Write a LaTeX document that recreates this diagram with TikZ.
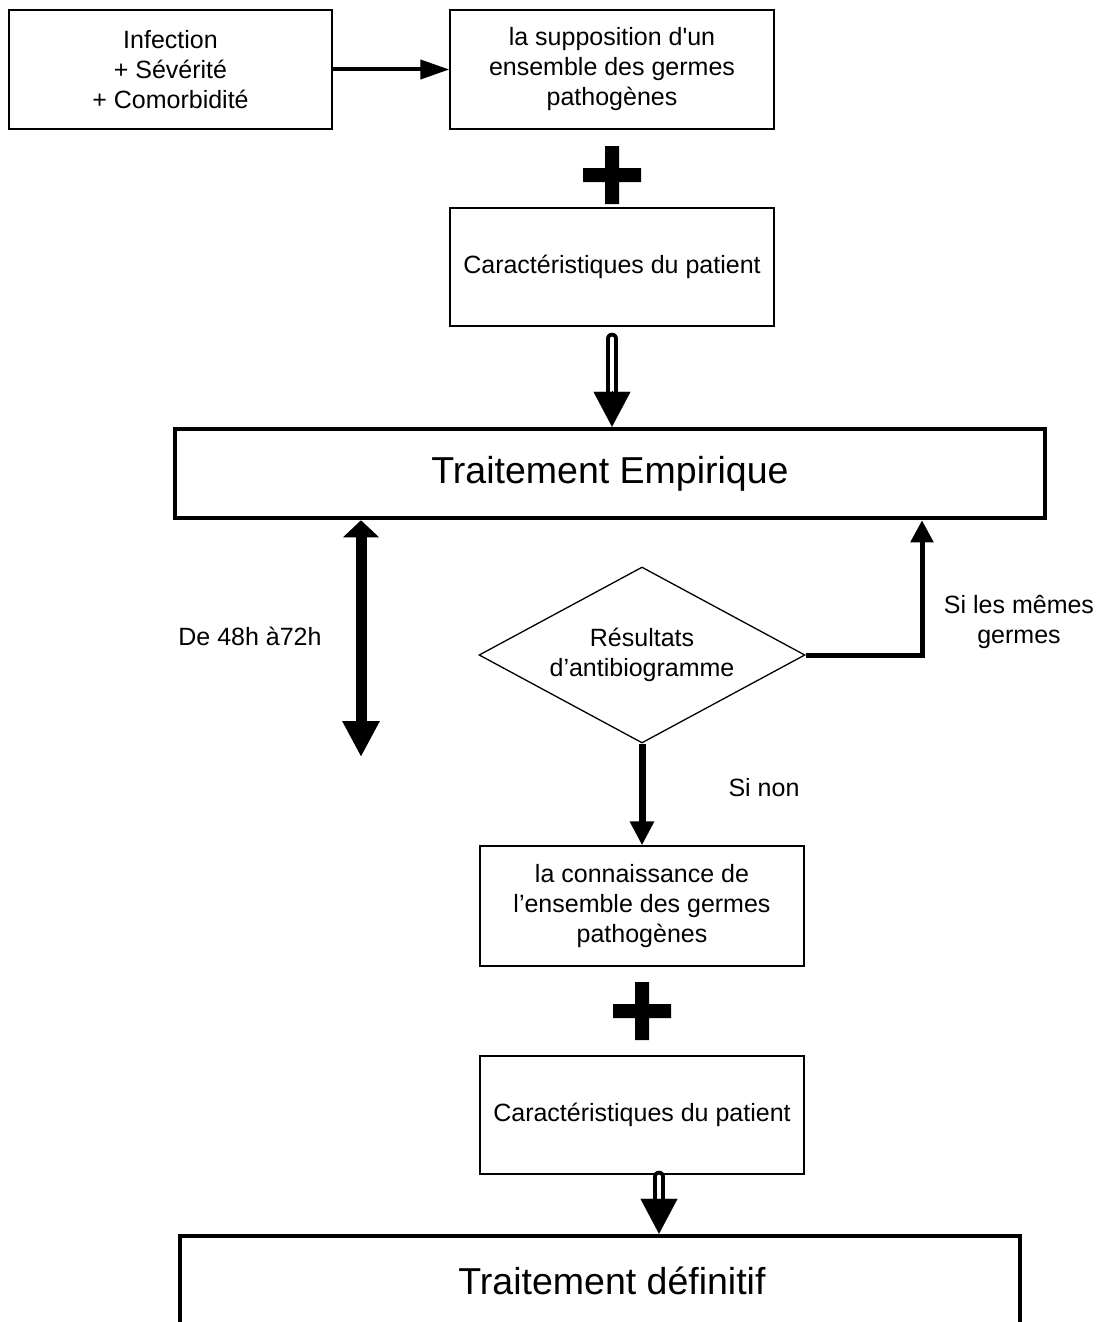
\documentclass[tikz,border=0pt]{standalone}
\usepackage{fontspec}
\setmainfont{Liberation Sans}
\usetikzlibrary{arrows.meta,shapes.geometric,calc}

\tikzset{every picture/.style={line width=1.3pt},
  txt/.style={align=center, font=\fontsize{25}{30}\selectfont},
  bigtxt/.style={font=\fontsize{37.5}{45}\selectfont},
  procbox/.style={draw, line width=1.3pt, minimum width=324pt, minimum height=119pt, inner sep=0pt, txt},
  bigbox/.style={draw, line width=4.5pt, inner sep=0pt, bigtxt},
  decision/.style={diamond, draw, line width=1.3pt, aspect=1.85, minimum width=326pt, minimum height=176pt, inner sep=0pt, txt},
  hollowshaft/.style={line width=4pt, double=white, double distance=4pt, line cap=round},
  hollowhead/.style={line width=0.1pt, -{Triangle[width=37pt,length=35pt]}},
}

\begin{document}
\begin{tikzpicture}[x=1pt,y=1pt,yscale=-1,xscale=1]
\useasboundingbox (0,0) rectangle (1103,1322);

%Flowchart: Process
\node (inf) [procbox, minimum width=323pt] at (170.5,69.5) {Infection\\+ Sévérité\\+ Comorbidité};
%Flowchart: Process
\node (supp) [procbox] at (612,69.5) {la supposition d\textquotesingle un\\ensemble des germes\\pathogènes};
%Flowchart: Process
\node (car1) [procbox, minimum height=118pt] at (612,267) {Caractéristiques du patient};
%Flowchart: Process
\node (emp) [bigbox, minimum width=870pt, minimum height=89pt] at (610,473.5) {Traitement Empirique};
%Flowchart: Decision
\node (res) [decision] at (642,655) {Résultats\\d’antibiogramme};
%Flowchart: Process
\node (conn) [procbox, minimum height=120pt] at (642,906) {la connaissance de\\l’ensemble des germes\\pathogènes};
%Flowchart: Process
\node (car2) [procbox, minimum height=118pt] at (642,1115) {Caractéristiques du patient};
%Flowchart: Process
\node (defi) [bigbox, minimum width=840pt, minimum height=128pt] at (600,1300) {};

% Text Node
\node (defitxt) [bigtxt] at (612,1281) {Traitement définitif};
% Text Node
\node (duree) [txt] at (250,636) {De 48h à72h};
% Text Node
\node (meme) [txt] at (1019,622) {Si les mêmes\\germes};
% Text Node
\node (non) [txt] at (764,788) {Si non};

%Plus
\foreach \cx/\cy in {612/175,642/1011}
  \fill (\cx-29,\cy-7) rectangle (\cx+29,\cy+7) (\cx-7,\cy-29) rectangle (\cx+7,\cy+29);

%Arrows
\draw [line width=4pt, -{Triangle[width=19pt,length=29pt]}] (inf) -- (supp);
% hollow arrow 1
\draw [hollowshaft] ($(car1.south)+(0,12)$) -- ($(car1.south |- emp.north)+(0,-35)$);
\draw [hollowhead] ($(car1.south |- emp.north)+(0,-36)$) -- (car1.south |- emp.north);
% double arrow
\coordinate (durend) at (361,757);
\draw [line width=11pt, {Triangle[width=35pt,length=17pt]}-{Triangle[width=35pt,length=36pt]}] (emp.south -| durend) -- (durend);
% back to empiric
\coordinate (turn) at (922,655);
\draw [line width=5pt, -{Triangle[width=22pt,length=22pt]}] (res.east) -- (turn) -- (turn |- emp.south);
% si non
\draw [line width=7pt, -{Triangle[width=23pt,length=24pt]}] (res.south) -- (conn.north);
% hollow arrow 2
\coordinate (a2) at ($(car2.south)+(17,0)$);
\draw [hollowshaft] ($(a2)+(0,2)$) -- ($(a2 |- defi.north)+(0,-34)$);
\draw [hollowhead] ($(a2 |- defi.north)+(0,-35)$) -- (a2 |- defi.north);

\end{tikzpicture}
\end{document}
